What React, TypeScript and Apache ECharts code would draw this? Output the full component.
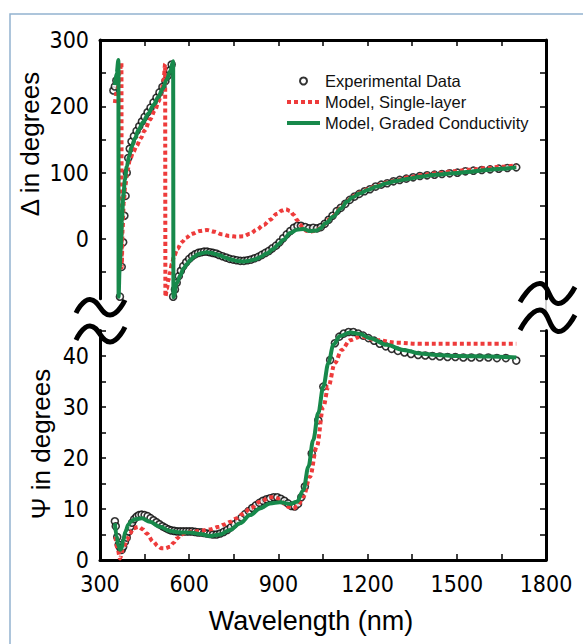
import React, { useEffect, useRef } from "react";
import * as echarts from "echarts";

// ---------- data (wavelength nm, value) ----------
const xTicksLabelled = [300, 600, 900, 1200, 1500, 1800];
const deltaTickValues = [-50, 0, 50, 100, 150, 200, 250, 300];
const deltaLabelValues = [0, 100, 200, 300];

const deltaExperimental: [number, number][] = [
  [345, 224], [350, 230], [355, 239], [367, -87], [373, -42], [378, -5], [382, 35], [386, 65],
  [390, 100], [395, 122], [400, 136], [406, 147], [414, 155], [423, 163], [432, 170], [441, 177],
  [450, 184], [460, 191], [470, 198], [480, 206], [490, 213], [500, 221], [510, 229], [520, 238],
  [528, 246], [535, 254], [541, 263], [546, -87], [552, -76], [558, -66], [565, -56], [572, -48],
  [580, -41], [590, -35], [600, -30], [610, -26], [620, -23], [630, -21], [640, -20], [650, -19],
  [660, -19], [670, -20], [680, -21], [690, -22], [700, -24], [712, -26], [724, -28], [736, -30],
  [748, -31], [760, -32], [772, -33], [784, -33], [796, -32], [808, -31], [820, -29], [832, -27],
  [844, -24], [856, -21], [868, -18], [880, -14], [892, -10], [904, -5], [916, 1], [928, 7],
  [940, 12], [952, 17], [964, 20], [976, 20], [990, 18], [1003, 16], [1017, 17], [1030, 16],
  [1043, 18], [1056, 23], [1069, 29], [1082, 35], [1096, 42], [1110, 47], [1125, 53], [1140, 59],
  [1156, 64], [1172, 68], [1190, 72], [1208, 75], [1227, 79], [1246, 82], [1266, 84], [1287, 87],
  [1308, 89], [1330, 91], [1353, 93], [1376, 95], [1400, 96], [1425, 97], [1450, 98], [1476, 99],
  [1502, 100], [1529, 102], [1556, 103], [1584, 104], [1612, 105], [1641, 106], [1670, 107], [1700, 108],
];

const deltaSingleLayer: [number, number][] = [
  [350, 205], [358, 225], [366, 250], [372, 266], [373, -43], [376, 15], [380, 55], [385, 80],
  [392, 103], [401, 120], [412, 131], [423, 140], [437, 152], [451, 164], [468, 180], [485, 194],
  [497, 207], [507, 222], [514, 240], [519, 264], [520, -87], [525, -75], [530, -62], [536, -50],
  [541, -38], [550, -25], [560, -15], [575, -5], [590, 2], [610, 8], [635, 12], [660, 13.5],
  [685, 11], [710, 7], [735, 4.5], [760, 3.5], [782, 4], [805, 8], [827, 14], [850, 21],
  [872, 29], [895, 38], [912, 43], [925, 45], [940, 42], [952, 36], [962, 29], [973, 22],
  [984, 16], [995, 12], [1006, 11], [1020, 12], [1035, 15], [1051, 21], [1068, 29], [1085, 35],
  [1110, 47], [1130, 57], [1150, 64], [1175, 70], [1200, 75], [1230, 80], [1264, 85], [1300, 89],
  [1340, 93], [1376, 96], [1432, 99], [1488, 102], [1545, 104.5], [1601, 107], [1650, 109], [1700, 111],
];

const deltaGraded: [number, number][] = [
  [350, 232], [356, 250], [362, 270], [362.5, -87], [366, -45], [370, -14], [374, 28], [378, 62],
  [384, 90], [390, 109], [398, 125], [406, 139], [418, 152], [429, 164], [445, 176], [462, 189],
  [480, 202], [496, 214], [510, 226], [524, 240], [536, 253], [546, 268], [547, -88], [558, -67],
  [570, -55], [580, -45], [592, -38], [603, -32], [615, -27], [630, -23], [645, -21], [658, -20],
  [675, -21], [690, -23], [705, -25], [720, -28], [740, -31], [760, -33], [780, -34], [800, -33],
  [820, -31], [840, -27], [860, -22], [883, -15], [900, -8], [917, -1], [940, 9], [962, 14],
  [984, 15], [1006, 12], [1029, 13], [1040, 16], [1060, 24], [1085, 34], [1110, 46], [1130, 56],
  [1150, 63], [1175, 69], [1200, 74], [1230, 79], [1264, 84], [1300, 88], [1340, 91], [1376, 94],
  [1432, 97], [1488, 99], [1545, 101.5], [1601, 104], [1650, 106], [1700, 108],
];

const psiExperimental: [number, number][] = [
  [350, 7.6], [353, 6.6], [358, 4.5], [363, 3.0], [368, 2.4], [373, 2.0], [378, 2.6], [384, 3.6],
  [390, 4.4], [396, 5.6], [402, 6.5], [408, 7.3], [415, 8.0], [423, 8.5], [431, 8.8], [440, 8.9],
  [450, 8.8], [460, 8.6], [470, 8.2], [480, 7.8], [490, 7.4], [500, 7.0], [510, 6.6], [520, 6.3],
  [530, 6.0], [540, 5.8], [550, 5.7], [560, 5.6], [570, 5.6], [580, 5.6], [590, 5.6], [600, 5.6],
  [610, 5.6], [620, 5.5], [630, 5.4], [640, 5.4], [650, 5.3], [660, 5.2], [670, 5.1], [680, 5.0],
  [692, 5.0], [704, 5.2], [716, 5.5], [728, 5.9], [740, 6.4], [752, 7.0], [764, 7.6], [776, 8.3],
  [788, 9.0], [800, 9.6], [812, 10.2], [824, 10.7], [836, 11.2], [848, 11.6], [860, 11.9], [872, 12.1],
  [884, 12.3], [896, 12.3], [908, 12.0], [920, 11.6], [932, 11.1], [944, 10.6], [955, 10.5], [966, 11.0],
  [977, 12.3], [989, 14.4], [1012, 20.9], [1034, 27.4], [1051, 34.0], [1074, 39.2], [1090, 42.5], [1105, 43.8],
  [1120, 44.4], [1136, 44.7], [1152, 44.7], [1168, 44.4], [1185, 44.0], [1203, 43.5], [1222, 43.0], [1241, 42.4],
  [1261, 41.9], [1281, 41.4], [1302, 41.0], [1324, 40.7], [1346, 40.4], [1370, 40.2], [1394, 40.1], [1418, 40.0],
  [1443, 39.9], [1469, 39.8], [1495, 39.8], [1522, 39.7], [1549, 39.7], [1577, 39.7], [1606, 39.7], [1635, 39.6],
  [1665, 39.6], [1700, 39.1],
];

const psiSingleLayer: [number, number][] = [
  [352, 4.5], [360, 2.0], [367, 0.3], [378, 2.2], [390, 3.9], [401, 5.2], [412, 6.2], [429, 6.5],
  [445, 6.0], [457, 5.2], [479, 3.6], [495, 2.7], [507, 2.3], [520, 2.3], [535, 2.6], [548, 3.4],
  [558, 4.2], [575, 5.0], [592, 5.5], [615, 5.6], [636, 5.7], [670, 6.0], [700, 6.5], [715, 6.9],
  [740, 7.5], [760, 8.2], [780, 9.0], [805, 10.1], [838, 11.4], [872, 12.3], [890, 12.3], [905, 11.9],
  [920, 11.0], [935, 10.4], [950, 10.1], [965, 10.6], [984, 12.4], [1006, 16.3], [1029, 22.2], [1051, 30.0],
  [1068, 34.0], [1090, 38.6], [1113, 41.2], [1141, 43.1], [1175, 43.8], [1231, 43.1], [1298, 42.6], [1376, 42.4],
  [1488, 42.4], [1612, 42.4], [1700, 42.4],
];

const psiGraded: [number, number][] = [
  [350, 7.2], [356, 4.6], [362, 2.8], [367, 2.0], [372, 2.2], [378, 3.9], [386, 5.6], [395, 6.9],
  [405, 7.6], [418, 8.0], [440, 8.2], [468, 7.5], [502, 6.5], [535, 5.7], [569, 5.4], [603, 5.4],
  [636, 5.1], [670, 4.7], [704, 5.0], [737, 5.9], [771, 7.2], [805, 8.8], [838, 10.1], [872, 11.1],
  [905, 11.3], [939, 11.0], [962, 11.4], [984, 13.7], [1001, 18.3], [1017, 23.5], [1034, 28.8], [1051, 34.0],
  [1068, 38.6], [1085, 42.2], [1107, 43.9], [1141, 44.6], [1175, 44.3], [1208, 43.5], [1264, 42.2], [1320, 41.2],
  [1376, 40.5], [1432, 40.2], [1500, 40.0], [1612, 39.9], [1700, 39.7],
];

const NAME_EXP = "Experimental Data";
const NAME_SINGLE = "Model, Single-layer";
const NAME_GRADED = "Model, Graded Conductivity";

const RED = "#ee3b3b";
const GREEN = "#17894b";
const NARROW = "'Liberation Sans Narrow', 'Arial Narrow', 'DejaVu Sans Condensed', sans-serif";
const SANS = "'Liberation Sans', Arial, sans-serif";

function axisLine() {
  return { show: true, onZero: false, lineStyle: { color: "#000", width: 3 } };
}
function axisTick() {
  return { show: true, inside: true, length: 6, lineStyle: { color: "#000", width: 1.5 } };
}

function buildOption() {
  const scatter = (data: [number, number][], xi: number, yi: number) => ({
    name: NAME_EXP,
    type: "scatter",
    xAxisIndex: xi,
    yAxisIndex: yi,
    data,
    symbol: "circle",
    symbolSize: 7,
    itemStyle: { color: "#fff", borderColor: "#000", borderWidth: 1.6 },
    z: 2,
  });
  const line = (name: string, data: [number, number][], xi: number, yi: number, color: string, dashed: boolean, z: number) => ({
    name,
    type: "line",
    xAxisIndex: xi,
    yAxisIndex: yi,
    data,
    symbol: "none",
    showSymbol: false,
    smooth: 0.35,
    smoothMonotone: "x",
    color,
    lineStyle: { color, width: 4, type: dashed ? [4, 3] : "solid", cap: "butt" },
    z,
  });

  const squiggle = (pts: number[][]) => ({
    type: "polyline",
    shape: { points: pts, smooth: 0.5 },
    style: { stroke: "#000", lineWidth: 5, fill: null },
    z: 100,
  });

  const hiddenSymbol = { opacity: 0, color: "transparent", borderWidth: 0 };

  return {
    animation: false,
    backgroundColor: "#fff",
    grid: [
      { left: 100, right: 37, top: 40, height: 258.7 },
      { left: 100, right: 37, top: 330.5, height: 229.5 },
    ],
    xAxis: [
      {
        gridIndex: 0, type: "value", position: "top", min: 300, max: 1800, interval: 150,
        axisLine: axisLine(), axisTick: axisTick(), axisLabel: { show: false }, splitLine: { show: false },
      },
      {
        gridIndex: 1, type: "value", position: "bottom", min: 300, max: 1800, interval: 150,
        axisLine: axisLine(), axisTick: axisTick(), splitLine: { show: false },
        axisLabel: {
          margin: 12, fontSize: 23, fontFamily: NARROW, color: "#000",
          formatter: (v: number) => (xTicksLabelled.indexOf(v) >= 0 ? String(v) : ""),
        },
      },
    ],
    yAxis: [
      {
        gridIndex: 0, type: "value", position: "left", min: -90, max: 300,
        axisLine: axisLine(),
        axisTick: { ...axisTick(), customValues: deltaTickValues },
        axisLabel: { customValues: deltaLabelValues, margin: 11, fontSize: 23, fontFamily: NARROW, color: "#000" },
        splitLine: { show: false },
      },
      {
        gridIndex: 0, type: "value", position: "right", min: -90, max: 300,
        axisLine: axisLine(),
        axisTick: { ...axisTick(), customValues: deltaTickValues },
        axisLabel: { show: false },
        splitLine: { show: false },
      },
      {
        gridIndex: 1, type: "value", position: "left", min: 0, max: 45, interval: 5,
        axisLine: axisLine(), axisTick: axisTick(), splitLine: { show: false },
        axisLabel: {
          margin: 11, fontSize: 23, fontFamily: NARROW, color: "#000",
          formatter: (v: number) => (v % 10 === 0 ? String(v) : ""),
        },
      },
      {
        gridIndex: 1, type: "value", position: "right", min: 0, max: 45, interval: 5,
        axisLine: axisLine(), axisTick: axisTick(), splitLine: { show: false },
        axisLabel: { show: false },
      },
    ],
    legend: {
      orient: "vertical",
      left: 285,
      top: 71,
      padding: 0,
      itemWidth: 33,
      itemHeight: 7,
      itemGap: 1,
      data: [
        { name: NAME_EXP },
        { name: NAME_SINGLE, itemStyle: hiddenSymbol, lineStyle: { width: 4, color: RED, type: [4, 3] } },
        { name: NAME_GRADED, itemStyle: hiddenSymbol, lineStyle: { width: 4, color: GREEN } },
      ],
      textStyle: { fontSize: 16.5, fontFamily: SANS, color: "#111", lineHeight: 20 },
    },
    series: [
      scatter(deltaExperimental, 0, 0),
      line(NAME_SINGLE, deltaSingleLayer, 0, 0, RED, true, 3),
      line(NAME_GRADED, deltaGraded, 0, 0, GREEN, false, 4),
      scatter(psiExperimental, 1, 2),
      line(NAME_SINGLE, psiSingleLayer, 1, 2, RED, true, 3),
      line(NAME_GRADED, psiGraded, 1, 2, GREEN, false, 4),
    ],
    graphic: [
      {
        type: "polyline",
        shape: { points: [[10, 644], [10, 14], [583, 14]] },
        style: { stroke: "#93b3cf", lineWidth: 1.5, fill: null },
      },
      {
        type: "line",
        shape: { x1: 546, y1: 298, x2: 546, y2: 312 },
        style: { stroke: "#aaa", lineWidth: 1 },
      },
      squiggle([[76, 313], [90, 299.5], [110, 315], [125, 300]]),
      squiggle([[76, 340], [90, 326], [110, 342], [125, 327]]),
      squiggle([[520, 302], [540, 283.5], [558, 303.5], [575, 287]]),
      squiggle([[520, 330], [540, 310], [558, 331.5], [575, 315]]),
      {
        type: "text", x: 30, y: 144, rotation: Math.PI / 2,
        style: { text: "Δ in degrees", fontSize: 26, fontFamily: SANS, fill: "#000", align: "center", verticalAlign: "middle" },
      },
      {
        type: "text", x: 41, y: 444, rotation: Math.PI / 2,
        style: { text: "Ψ in degrees", fontSize: 26, fontFamily: SANS, fill: "#000", align: "center", verticalAlign: "middle" },
      },
      {
        type: "text", x: 311, y: 621,
        style: { text: "Wavelength (nm)", fontSize: 27, fontFamily: SANS, fill: "#000", align: "center", verticalAlign: "middle" },
      },
    ],
  };
}

export default function App() {
  const ref = useRef<HTMLDivElement>(null);
  useEffect(() => {
    if (!ref.current) return;
    const chart = echarts.init(ref.current, null, { renderer: "svg" });
    chart.setOption(buildOption() as any);
    return () => chart.dispose();
  }, []);
  return (
    <div
      ref={ref}
      style={{ position: "absolute", left: 0, top: 0, width: 583, height: 644, background: "#fff" }}
    />
  );
}
